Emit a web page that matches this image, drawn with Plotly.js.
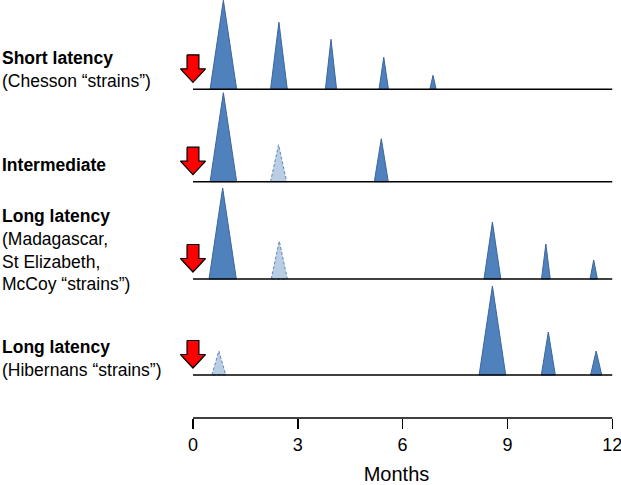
<!DOCTYPE html>
<html>
<head>
<meta charset="utf-8">
<script src="https://cdn.plot.ly/plotly-3.0.1.min.js"></script>
<style>html,body{margin:0;padding:0;background:#fff;}#chart{width:621px;height:485px;}</style>
</head>
<body>
<div id="chart"></div>
<script>
// ---- Data ----
const rowLabels = [
  '<b>Short latency</b><br>(Chesson “strains”)',
  '<b>Intermediate</b>',
  '<b>Long latency</b><br>(Madagascar,<br>St Elizabeth,<br>McCoy “strains”)',
  '<b>Long latency</b><br>(Hibernans “strains”)'
];
const treatmentMonth = 0;
const monthTicks = [0, 3, 6, 9, 12];

// peak month, relative height, base width (months), kind (solid = typical, faint = occasional)
const shortMonths  = [0.87, 2.46, 3.95, 5.46, 6.87];
const shortHeights = [89, 67, 50, 32, 14];
const shortWidths  = [0.76, 0.48, 0.32, 0.27, 0.18];
const shortKinds   = ['solid', 'solid', 'solid', 'solid', 'solid'];

const interMonths  = [0.87, 2.45, 5.39];
const interHeights = [89, 37, 43];
const interWidths  = [0.76, 0.46, 0.40];
const interKinds   = ['solid', 'faint', 'solid'];

const longMonths   = [0.85, 2.47, 8.57, 10.10, 11.47];
const longHeights  = [91, 38, 57, 35, 19];
const longWidths   = [0.78, 0.46, 0.48, 0.25, 0.21];
const longKinds    = ['solid', 'faint', 'solid', 'solid', 'solid'];

const hibMonths    = [0.74, 8.57, 10.17, 11.54];
const hibHeights   = [24, 89, 43, 24];
const hibWidths    = [0.40, 0.76, 0.40, 0.32];
const hibKinds     = ['faint', 'solid', 'solid', 'solid'];

const rows = [
  {m: shortMonths, h: shortHeights, w: shortWidths, k: shortKinds},
  {m: interMonths, h: interHeights, w: interWidths, k: interKinds},
  {m: longMonths,  h: longHeights,  w: longWidths,  k: longKinds},
  {m: hibMonths,   h: hibHeights,   w: hibWidths,   k: hibKinds}
];

// ---- Layout constants ----
const W = 621, H = 485;
const xMin = -0.4, xMax = 12.05;
const pxPerMonth = 34.92;
const mL = 193 - (-xMin) * pxPerMonth;           // month 0 at x=193
const mR = W - mL - (xMax - xMin) * pxPerMonth;
const mT = 0, mB = 67;
const plotH = H - mT - mB;           // 418
const basePx = [89.3, 181.7, 279, 375];  // baseline pixel rows
const pad = 3;
const rowSpan = 95;

const styles = {
  solid: {fill: '#4F81BD', line: {color: '#3B669B', width: 1}},
  faint: {fill: '#B9CDE5', line: {color: '#5B86BE', width: 1, dash: '3px,2px'}}
};

const traces = [];
const shapes = [];
const layout = {
  width: W, height: H,
  margin: {l: mL, r: mR, t: mT, b: mB},
  paper_bgcolor: '#ffffff', plot_bgcolor: 'rgba(0,0,0,0)',
  showlegend: false,
  font: {family: 'Liberation Sans, Arial, sans-serif', color: '#000'},
  xaxis: {
    range: [xMin, xMax], anchor: 'free', position: 0,
    tickvals: monthTicks, ticktext: monthTicks.map(String),
    ticks: 'outside', ticklen: 10, tickwidth: 1.5, tickcolor: '#000',
    ticklabeloverflow: 'allow', ticklabelshift: -2.5,
    showline: false, showgrid: false, zeroline: false,
    tickfont: {size: 18, color: '#000'},
    title: {text: 'Months', font: {size: 20, color: '#000'}, standoff: 17}
  },
  annotations: [],
  shapes: shapes
};

rows.forEach((row, r) => {
  const yid = r === 0 ? 'y' : 'y' + (r + 1);
  const axName = r === 0 ? 'yaxis' : 'yaxis' + (r + 1);
  const bottom = (plotH - basePx[r] - pad) / plotH;
  const top = Math.min(1, bottom + rowSpan / plotH);
  layout[axName] = {
    domain: [bottom, top], range: [-pad, (top - bottom) * plotH - pad],
    visible: false, fixedrange: true, anchor: 'x'
  };
  row.m.forEach((m, i) => {
    const st = styles[row.k[i]];
    const hw = row.w[i] / 2;
    traces.push({
      type: 'scatter', mode: 'lines', xaxis: 'x', yaxis: yid,
      x: [m - hw, m, m + hw, m - hw], y: [0, row.h[i], 0, 0],
      fill: 'toself', fillcolor: st.fill, line: st.line, hoverinfo: 'skip'
    });
  });
  shapes.push({type: 'line', xref: 'x', yref: yid, x0: 0, x1: 12, y0: 0, y1: 0,
               line: {color: '#000', width: 1.6}, layer: 'above'});
  const hx = 0.36, sx = 0.17, tip = 7, neck = 20.5, topY = 34.5;
  const t = treatmentMonth;
  traces.push({
    type: 'scatter', mode: 'lines', xaxis: 'x', yaxis: yid,
    x: [t - sx, t + sx, t + sx, t + hx, t, t - hx, t - sx, t - sx],
    y: [topY, topY, neck, neck, tip, neck, neck, topY],
    fill: 'toself', fillcolor: '#FF0000', line: {color: '#000', width: 1.2}, hoverinfo: 'skip'
  });
});

shapes.push({type: 'line', xref: 'x', yref: 'paper', x0: 0, x1: 12, y0: 0, y1: 0,
             line: {color: '#000', width: 1.6}});

const labelCenterPx = [69, 165, 250.5, 358.5];
const plotW = W - mL - mR;
rowLabels.forEach((txt, r) => {
  layout.annotations.push({
    xref: 'paper', yref: 'paper',
    x: (0 - mL) / plotW, y: (plotH - labelCenterPx[r]) / plotH,
    xanchor: 'left', yanchor: 'middle', align: 'left', showarrow: false,
    text: txt, font: {size: 17.5, color: '#000'}
  });
});

Plotly.newPlot('chart', traces, layout, {staticPlot: true, displayModeBar: false});
</script>
</body>
</html>
